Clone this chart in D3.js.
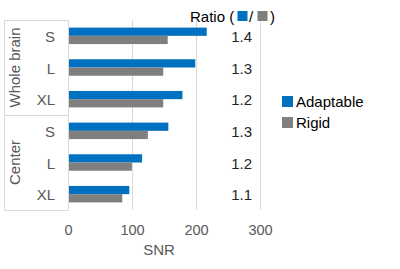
<!DOCTYPE html>
<html>
<head>
<meta charset="utf-8">
<script src="https://cdn.jsdelivr.net/npm/d3@7"></script>
<style>
  body { margin: 0; background: #fff; }
  text { font-family: "Liberation Sans", Arial, sans-serif; }
</style>
</head>
<body>
<div id="chart"></div>
<script>
// data
const groups = ['Whole brain', 'Center'];
const sizes = ['S', 'L', 'XL'];
const adaptable = [216, 198, 178, 156, 115, 95];
const rigid = [155, 148, 148, 124, 99, 84];
const ratios = ['1.4', '1.3', '1.2', '1.3', '1.2', '1.1'];
const xTicks = [0, 100, 200, 300];
const seriesNames = ['Adaptable', 'Rigid'];
const colors = ['#0070C0', '#7F7F7F'];

const width = 400, height = 269;
const margin = { top: 20, left: 68.5, bottom: 59 };
const plotW = 192; // 0..300

const svg = d3.select('#chart')
    .append('svg')
    .attr('width', width)
    .attr('height', height);

// rows: one per group/size pair
const rows = [];
groups.forEach((g, gi) => sizes.forEach((s, si) => {
    const i = gi * sizes.length + si;
    rows.push({ key: g + '|' + s, group: g, size: s, values: [adaptable[i], rigid[i]], ratio: ratios[i] });
}));

const xScale = d3.scaleLinear()
    .domain([0, 300])
    .range([margin.left, margin.left + plotW]);

const yScale = d3.scaleBand()
    .domain(rows.map(d => d.key))
    .range([margin.top, height - margin.bottom])
    .paddingInner(0.48)
    .paddingOuter(0.24);

const subScale = d3.scaleBand()
    .domain([0, 1])
    .range([0, yScale.bandwidth()]);

const step = yScale.step();
const rowCenter = d => yScale(d.key) + yScale.bandwidth() / 2;

// gridlines
svg.append('g')
    .selectAll('line')
    .data(xTicks.slice(1))
    .enter()
    .append('line')
    .attr('x1', d => xScale(d)).attr('x2', d => xScale(d))
    .attr('y1', margin.top).attr('y2', height - margin.bottom)
    .attr('stroke', '#d9d9d9').attr('stroke-width', 1);

// bars
svg.append('g')
    .selectAll('g')
    .data(rows)
    .enter()
    .append('g')
    .attr('transform', d => `translate(0,${yScale(d.key)})`)
    .selectAll('rect')
    .data(d => d.values)
    .enter()
    .append('rect')
    .attr('x', xScale(0))
    .attr('y', (d, i) => subScale(i))
    .attr('width', d => xScale(d) - xScale(0))
    .attr('height', subScale.bandwidth())
    .attr('fill', (d, i) => colors[i]);

// category axis lines
const axisG = svg.append('g').attr('stroke', '#d9d9d9').attr('stroke-width', 1);
const plotTop = margin.top, plotBottom = height - margin.bottom;
axisG.append('line').attr('x1', xScale(0)).attr('x2', xScale(0)).attr('y1', plotTop).attr('y2', plotBottom);
axisG.append('line').attr('x1', 4.5).attr('x2', 4.5).attr('y1', plotTop).attr('y2', plotBottom);
[0, 1, 2].forEach(k => {
    const y = Math.round(plotTop + k * step * sizes.length) + 0.5;
    axisG.append('line').attr('x1', 4).attr('x2', xScale(0)).attr('y1', y).attr('y2', y);
});

// size labels
svg.append('g')
    .selectAll('text')
    .data(rows)
    .enter()
    .append('text')
    .attr('x', 55)
    .attr('y', d => rowCenter(d) + 6)
    .attr('text-anchor', 'end')
    .attr('font-size', 15)
    .attr('fill', '#595959')
    .text(d => d.size);

// group labels
svg.append('g')
    .selectAll('text')
    .data(groups)
    .enter()
    .append('text')
    .attr('transform', (d, i) => `translate(20,${plotTop + (i + 0.5) * step * sizes.length}) rotate(-90)`)
    .attr('text-anchor', 'middle')
    .attr('font-size', 15)
    .attr('fill', '#595959')
    .text(d => d);

// x axis tick labels
svg.append('g')
    .selectAll('text')
    .data(xTicks)
    .enter()
    .append('text')
    .attr('x', d => xScale(d))
    .attr('y', 235)
    .attr('text-anchor', 'middle')
    .attr('font-size', 14.5)
    .attr('fill', '#595959')
    .text(d => d);

svg.append('text')
    .attr('x', 159)
    .attr('y', 255)
    .attr('text-anchor', 'middle')
    .attr('font-size', 15)
    .attr('fill', '#595959')
    .text('SNR');

// ratio column
svg.append('g')
    .selectAll('text')
    .data(rows)
    .enter()
    .append('text')
    .attr('x', 252)
    .attr('y', d => rowCenter(d) + 6)
    .attr('text-anchor', 'end')
    .attr('font-size', 15)
    .attr('fill', '#262626')
    .text(d => d.ratio);

// ratio header
const hdr = svg.append('g');
hdr.append('text').attr('x', 190).attr('y', 21.5).attr('font-size', 15).attr('fill', '#000').text('Ratio (');
hdr.append('rect').attr('x', 237.5).attr('y', 11).attr('width', 10).attr('height', 10).attr('fill', colors[0]);
hdr.append('text').attr('x', 249).attr('y', 21.5).attr('font-size', 15).attr('fill', '#000').text('/');
hdr.append('rect').attr('x', 257.5).attr('y', 11).attr('width', 10).attr('height', 10).attr('fill', colors[1]);
hdr.append('text').attr('x', 270).attr('y', 21.5).attr('font-size', 15).attr('fill', '#000').text(')');

// legend
const legend = svg.append('g')
    .selectAll('g')
    .data(seriesNames)
    .enter()
    .append('g')
    .attr('transform', (d, i) => `translate(282,${96 + i * 21})`);

legend.append('rect')
    .attr('width', 11).attr('height', 11)
    .attr('fill', (d, i) => colors[i]);

legend.append('text')
    .attr('x', 14)
    .attr('y', 11)
    .attr('font-size', 15)
    .attr('fill', '#000')
    .text(d => d);
</script>
</body>
</html>
